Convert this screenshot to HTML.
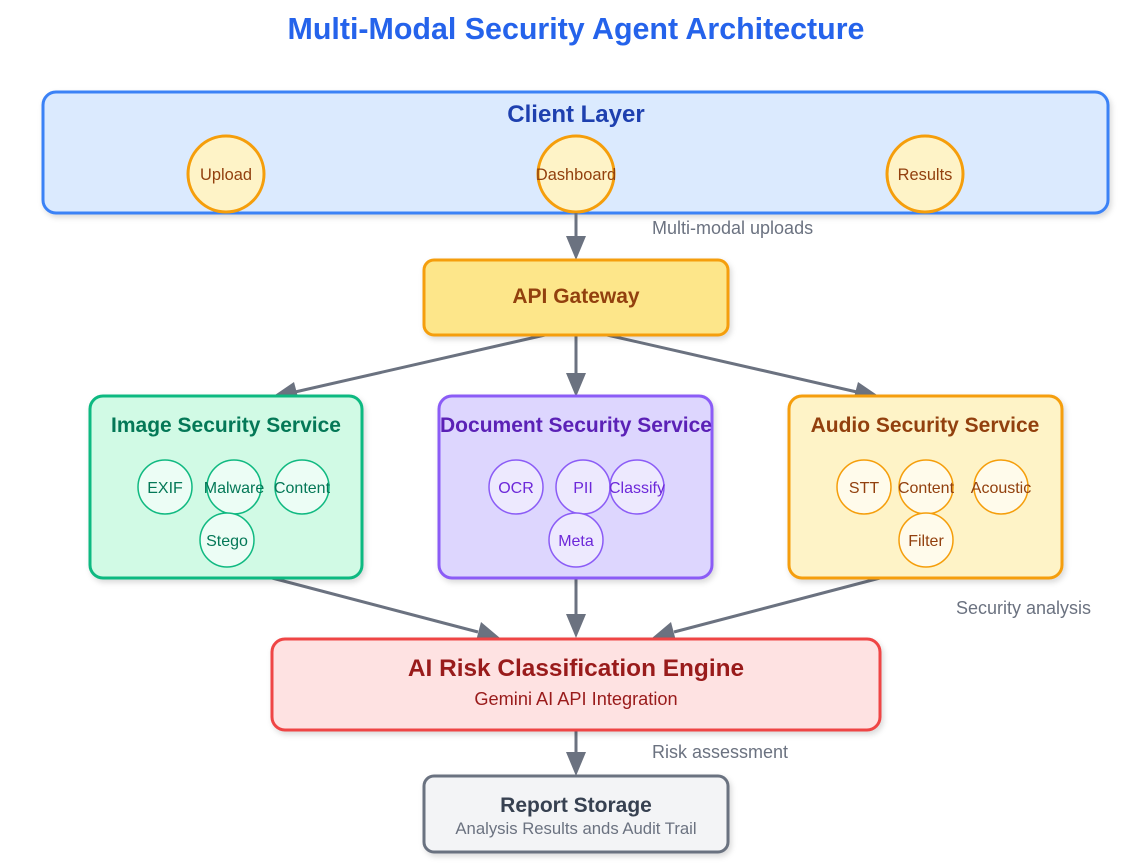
<!DOCTYPE html>
<html><head><meta charset="utf-8"><style>
html,body{margin:0;padding:0;background:#fff;}
svg{display:block;font-family:"Liberation Sans",Arial,sans-serif;}
</style></head><body>
<svg width="1126" height="866" viewBox="0 0 1126 866" xmlns="http://www.w3.org/2000/svg">
<defs>
<filter id="sh" x="-10%" y="-10%" width="120%" height="130%"><feDropShadow dx="2" dy="3" stdDeviation="3" flood-color="#000" flood-opacity="0.15"/></filter>
</defs>
<text x="576" y="39" text-anchor="middle" font-size="30.4" font-weight="bold" fill="#2563eb">Multi-Modal Security Agent Architecture</text>

<rect x="43" y="92" width="1065" height="121" rx="13" fill="#dbeafe" stroke="#3b82f6" stroke-width="3" filter="url(#sh)"/>
<text x="576" y="122" text-anchor="middle" font-size="24" font-weight="bold" fill="#1e40af">Client Layer</text>
<g fill="#fef3c7" stroke="#f59e0b" stroke-width="3">
<circle cx="226" cy="174" r="38"/><circle cx="576" cy="174" r="38"/><circle cx="925" cy="174" r="38"/></g>
<g font-size="16.4" fill="#92400e" text-anchor="middle">
<text x="226" y="180">Upload</text><text x="576" y="180">Dashboard</text><text x="925" y="180">Results</text></g>

<g stroke="#6b7280" stroke-width="3" fill="none">
<line x1="576" y1="213" x2="576" y2="240"/>
<line x1="545" y1="335" x2="295" y2="392"/>
<line x1="576" y1="335" x2="576" y2="375"/>
<line x1="607" y1="335" x2="857" y2="392"/>
<line x1="272" y1="578" x2="478" y2="632"/>
<line x1="576" y1="578" x2="576" y2="616"/>
<line x1="880" y1="578" x2="674" y2="632"/>
<line x1="576" y1="730" x2="576" y2="755"/>
</g>
<g fill="#6b7280">
<polygon points="566,236 586,236 576,260"/>
<polygon points="566,373 586,373 576,397"/>
<polygon points="272,397 294,382 299,401"/>
<polygon points="880,397 858,382 853,401"/>
<polygon points="500,638 476,641 481,622"/>
<polygon points="566,614 586,614 576,638"/>
<polygon points="652,638 676,641 671,622"/>
<polygon points="566,752 586,752 576,776"/>
</g>
<g font-size="18" fill="#6b7280">
<text x="652" y="234">Multi-modal uploads</text>
<text x="956" y="614">Security analysis</text>
<text x="652" y="758">Risk assessment</text></g>

<rect x="424" y="260" width="304" height="75" rx="10" fill="#fde68a" stroke="#f59e0b" stroke-width="3" filter="url(#sh)"/>
<text x="576" y="303" text-anchor="middle" font-size="21" font-weight="bold" fill="#92400e">API Gateway</text>

<rect x="90" y="396" width="272" height="182" rx="13" fill="#d1fae5" stroke="#10b981" stroke-width="3" filter="url(#sh)"/>
<text x="226" y="432" text-anchor="middle" font-size="21" font-weight="bold" fill="#047857">Image Security Service</text>
<g fill="#ecfdf5" stroke="#10b981" stroke-width="1.5">
<circle cx="165" cy="487" r="27"/><circle cx="234" cy="487" r="27"/><circle cx="302" cy="487" r="27"/><circle cx="227" cy="540" r="27"/></g>
<g font-size="16" fill="#047857" text-anchor="middle">
<text x="165" y="493">EXIF</text><text x="234" y="493">Malware</text><text x="302" y="493">Content</text><text x="227" y="546">Stego</text></g>

<rect x="439" y="396" width="273" height="182" rx="13" fill="#ddd6fe" stroke="#8b5cf6" stroke-width="3" filter="url(#sh)"/>
<text x="576" y="432" text-anchor="middle" font-size="21" font-weight="bold" fill="#5b21b6">Document Security Service</text>
<g fill="#ede9fe" stroke="#8b5cf6" stroke-width="1.5">
<circle cx="516" cy="487" r="27"/><circle cx="583" cy="487" r="27"/><circle cx="637" cy="487" r="27"/><circle cx="576" cy="540" r="27"/></g>
<g font-size="16" fill="#6d28d9" text-anchor="middle">
<text x="516" y="493">OCR</text><text x="583" y="493">PII</text><text x="637" y="493">Classify</text><text x="576" y="546">Meta</text></g>

<rect x="789" y="396" width="273" height="182" rx="13" fill="#fef3c7" stroke="#f59e0b" stroke-width="3" filter="url(#sh)"/>
<text x="925" y="432" text-anchor="middle" font-size="21" font-weight="bold" fill="#92400e">Audio Security Service</text>
<g fill="#fffbeb" stroke="#f59e0b" stroke-width="1.5">
<circle cx="864" cy="487" r="27"/><circle cx="926" cy="487" r="27"/><circle cx="1001" cy="487" r="27"/><circle cx="926" cy="540" r="27"/></g>
<g font-size="16" fill="#92400e" text-anchor="middle">
<text x="864" y="493">STT</text><text x="926" y="493">Content</text><text x="1001" y="493">Acoustic</text><text x="926" y="546">Filter</text></g>

<rect x="272" y="639" width="608" height="91" rx="13" fill="#fee2e2" stroke="#ef4444" stroke-width="3" filter="url(#sh)"/>
<text x="576" y="676" text-anchor="middle" font-size="24.4" font-weight="bold" fill="#991b1b">AI Risk Classification Engine</text>
<text x="576" y="705" text-anchor="middle" font-size="18.2" fill="#991b1b">Gemini AI API Integration</text>

<rect x="424" y="776" width="304" height="76" rx="10" fill="#f3f4f6" stroke="#6b7280" stroke-width="3" filter="url(#sh)"/>
<text x="576" y="812" text-anchor="middle" font-size="21" font-weight="bold" fill="#374151">Report Storage</text>
<text x="576" y="834" text-anchor="middle" font-size="16.7" fill="#6b7280">Analysis Results ands Audit Trail</text>
</svg>
</body></html>
